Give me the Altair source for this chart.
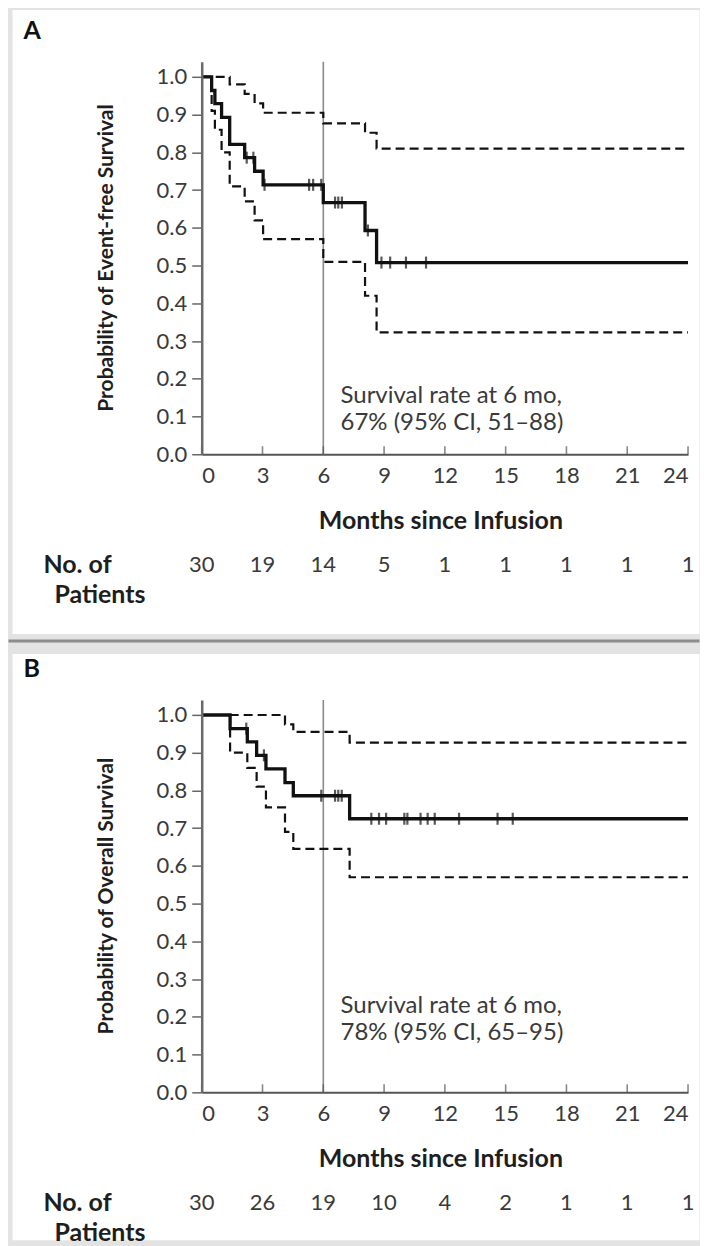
import altair as alt
import pandas as pd

# ---------------- data ----------------
months_ticks = [0, 3, 6, 9, 12, 15, 18, 21, 24]
y_ticks = [0.0, 0.1, 0.2, 0.3, 0.4, 0.5, 0.6, 0.7, 0.8, 0.9, 1.0]

# Panel A: event-free survival
A_km_t = [0, 0.49, 0.65, 0.98, 1.38, 2.12, 2.61, 3.03, 6.0, 8.06, 8.63, 24]
A_km_s = [1.0, 0.964, 0.929, 0.893, 0.821, 0.786, 0.75, 0.714, 0.667, 0.593, 0.508, 0.508]
A_up_t = [0, 1.38, 2.12, 2.61, 3.03, 6.0, 8.06, 8.63, 24]
A_up_s = [1.0, 0.98, 0.955, 0.93, 0.905, 0.877, 0.852, 0.81, 0.81]
A_lo_t = [0, 0.49, 0.65, 0.98, 1.38, 2.12, 2.61, 3.03, 6.0, 8.06, 8.63, 24]
A_lo_s = [1.0, 0.91, 0.86, 0.80, 0.71, 0.67, 0.62, 0.57, 0.51, 0.42, 0.323, 0.323]
A_cens_t = [2.22, 2.55, 3.1, 5.3, 5.5, 5.9, 6.58, 6.74, 6.92, 8.2, 8.87, 9.3, 10.08, 11.07]
A_cens_s = [0.786, 0.786, 0.714, 0.714, 0.714, 0.714, 0.667, 0.667, 0.667, 0.593,
            0.508, 0.508, 0.508, 0.508]
A_risk = [30, 19, 14, 5, 1, 1, 1, 1, 1]
A_note = ["Survival rate at 6 mo,", "67% (95% CI, 51\u201388)"]
A_note_s = [0.155, 0.084]

# Panel B: overall survival
B_km_t = [0, 1.40, 2.25, 2.71, 3.17, 4.11, 4.52, 7.3, 24]
B_km_s = [1.0, 0.964, 0.929, 0.893, 0.857, 0.821, 0.786, 0.725, 0.725]
B_up_t = [0, 4.11, 4.52, 7.3, 24]
B_up_s = [1.0, 0.975, 0.955, 0.927, 0.927]
B_lo_t = [0, 1.40, 2.25, 2.71, 3.17, 4.11, 4.52, 7.3, 24]
B_lo_s = [1.0, 0.90, 0.86, 0.81, 0.755, 0.69, 0.645, 0.57, 0.57]
B_cens_t = [2.2, 3.07, 5.9, 6.58, 6.74, 6.91, 8.37, 8.75, 9.1, 10.0, 10.15, 10.8,
            11.15, 11.5, 12.7, 14.6, 15.35]
B_cens_s = [0.964, 0.893, 0.786, 0.786, 0.786, 0.786, 0.725, 0.725, 0.725, 0.725,
            0.725, 0.725, 0.725, 0.725, 0.725, 0.725, 0.725]
B_risk = [30, 26, 19, 10, 4, 2, 1, 1, 1]
B_note = ["Survival rate at 6 mo,", "78% (95% CI, 65\u201395)"]
B_note_s = [0.229, 0.158]

NOTE_T = 6.85
VLINE_T = 6

# ---------------- layout constants ----------------
W, H = 487, 393
YMAX = 1.04
FONT = "Lato"
GRAY = "#e3e3e3"
INK = "#111111"
TXT = "#3a3a3a"
HEAD = "#1e1e1e"

xs = alt.Scale(domain=[0, 24], nice=False, zero=False)
ys = alt.Scale(domain=[0, YMAX], nice=False, zero=False)

X_AXIS = alt.Axis(
    values=months_ticks, title=None, grid=False, ticks=False, labelPadding=11,
    labelFont=FONT, labelFontSize=22, labelColor=TXT, domainColor="#555555",
    domainWidth=2, labelOverlap=False, zindex=1)
Y_AXIS = alt.Axis(
    values=y_ticks, format=".1f", title=None, grid=False, tickSize=10,
    tickWidth=1.5, tickColor="#666666", labelPadding=5, labelFont=FONT,
    labelFontSize=22, labelColor=TXT, domainColor="#6a6a6a", domainWidth=2.5,
    labelOverlap=False, tickCount=11, zindex=1)


def X():
    return alt.X("t:Q", scale=xs, axis=X_AXIS)


def Y():
    return alt.Y("s:Q", scale=ys, axis=Y_AXIS)


def one_row():
    return alt.Chart(pd.DataFrame({"k": [0]}))


def rect(x0, x1, y0, y1, color):
    return one_row().mark_rect(color=color).encode(
        x=alt.value(x0), x2=alt.value(x1), y=alt.value(y0), y2=alt.value(y1)
    )


def label(txt, x, y, size, weight="normal", align="left", angle=0, color=TXT):
    kw = dict(font=FONT, fontSize=size, fontWeight=weight, align=align,
              baseline="middle", color=color)
    if angle:
        kw["angle"] = angle
    return one_row().mark_text(**kw).encode(
        x=alt.value(x), y=alt.value(y), text=alt.value(txt)
    )


def panel(letter, ytitle, km_t, km_s, up_t, up_s, lo_t, lo_s, cens_t, cens_s,
          risk, note, note_s, top):
    km = pd.DataFrame({"t": km_t, "s": km_s})
    ci = pd.concat([
        pd.DataFrame({"t": up_t, "s": up_s, "band": "upper"}),
        pd.DataFrame({"t": lo_t, "s": lo_s, "band": "lower"}),
    ])
    cens = pd.DataFrame({"t": cens_t, "s": cens_s})
    ticks = pd.DataFrame({"t": months_ticks, "s": [0] * len(months_ticks)})
    risk_df = pd.DataFrame({"t": months_ticks, "n": [str(v) for v in risk]})
    note_df = pd.DataFrame({"t": [NOTE_T] * 2, "s": note_s, "txt": note})
    vline = pd.DataFrame({"t": [VLINE_T], "s": [0], "s2": [YMAX]})

    if top:
        bg = [rect(-193.5, 498.5, -51.9, 588.1, GRAY),
              rect(-189.5, 498.5, -51.9, 573.1, "white"),
              rect(-193.5, 498.5, 578.6, 581.6, "#8c8c8c")]
    else:
        bg = [rect(-193.5, 498.5, -48.9, 541.1, GRAY),
              rect(-189.5, 498.5, -45.9, 541.1, "white")]

    vrule = alt.Chart(vline).mark_rule(color="#8a8a8a", strokeWidth=1.6).encode(
        x=X(), y=Y(), y2="s2:Q")
    ci_lines = alt.Chart(ci).mark_line(
        interpolate="step-after", color=INK, strokeWidth=2.2, strokeDash=[9, 5]
    ).encode(x=X(), y=Y(), detail="band:N")
    km_line = alt.Chart(km).mark_line(
        interpolate="step-after", color=INK, strokeWidth=3.3
    ).encode(x=X(), y=Y())
    cens_marks = alt.Chart(cens).mark_tick(
        orient="vertical", color=INK, size=12, thickness=2.2
    ).encode(x=X(), y=Y())
    xticks = alt.Chart(ticks).mark_tick(
        orient="vertical", color="#555555", size=8, thickness=1.6, yOffset=-4
    ).encode(x=X(), y=Y())
    notes = alt.Chart(note_df).mark_text(
        font=FONT, fontSize=24, align="left", baseline="middle", color=TXT
    ).encode(x=X(), y=Y(), text="txt:N")
    risk_row = alt.Chart(risk_df).mark_text(
        font=FONT, fontSize=22, align="center", baseline="middle", color=TXT
    ).encode(x=X(), y=alt.value(504), text="n:N")

    texts = [
        label(letter, -178.5, -31, 25, "bold", color="#111111"),
        label(ytitle, -94.5, H - 0.52 * (H / YMAX), 21, "bold", align="center",
              angle=270, color=HEAD),
        label("Months since Infusion", W / 2 - 4, 459.5, 25, "bold",
              align="center", color=HEAD),
        label("No. of", -158.5, 504, 25, "bold", color=HEAD),
        label("Patients", -147.5, 533.5, 25, "bold", color=HEAD),
    ]

    return alt.layer(
        *bg, vrule, ci_lines, km_line, cens_marks, xticks, notes, risk_row, *texts
    ).properties(width=W, height=H)


pA = panel("A", "Probability of Event-free Survival", A_km_t, A_km_s, A_up_t,
           A_up_s, A_lo_t, A_lo_s, A_cens_t, A_cens_s, A_risk, A_note, A_note_s,
           True)
pB = panel("B", "Probability of Overall Survival", B_km_t, B_km_s, B_up_t,
           B_up_s, B_lo_t, B_lo_s, B_cens_t, B_cens_s, B_risk, B_note, B_note_s,
           False)

chart = alt.vconcat(pA, pB, spacing=0).properties(padding=0).configure(
    background=GRAY
).configure_view(stroke="transparent")

chart.save("out.html", embed_options={"renderer": "svg", "actions": False})
